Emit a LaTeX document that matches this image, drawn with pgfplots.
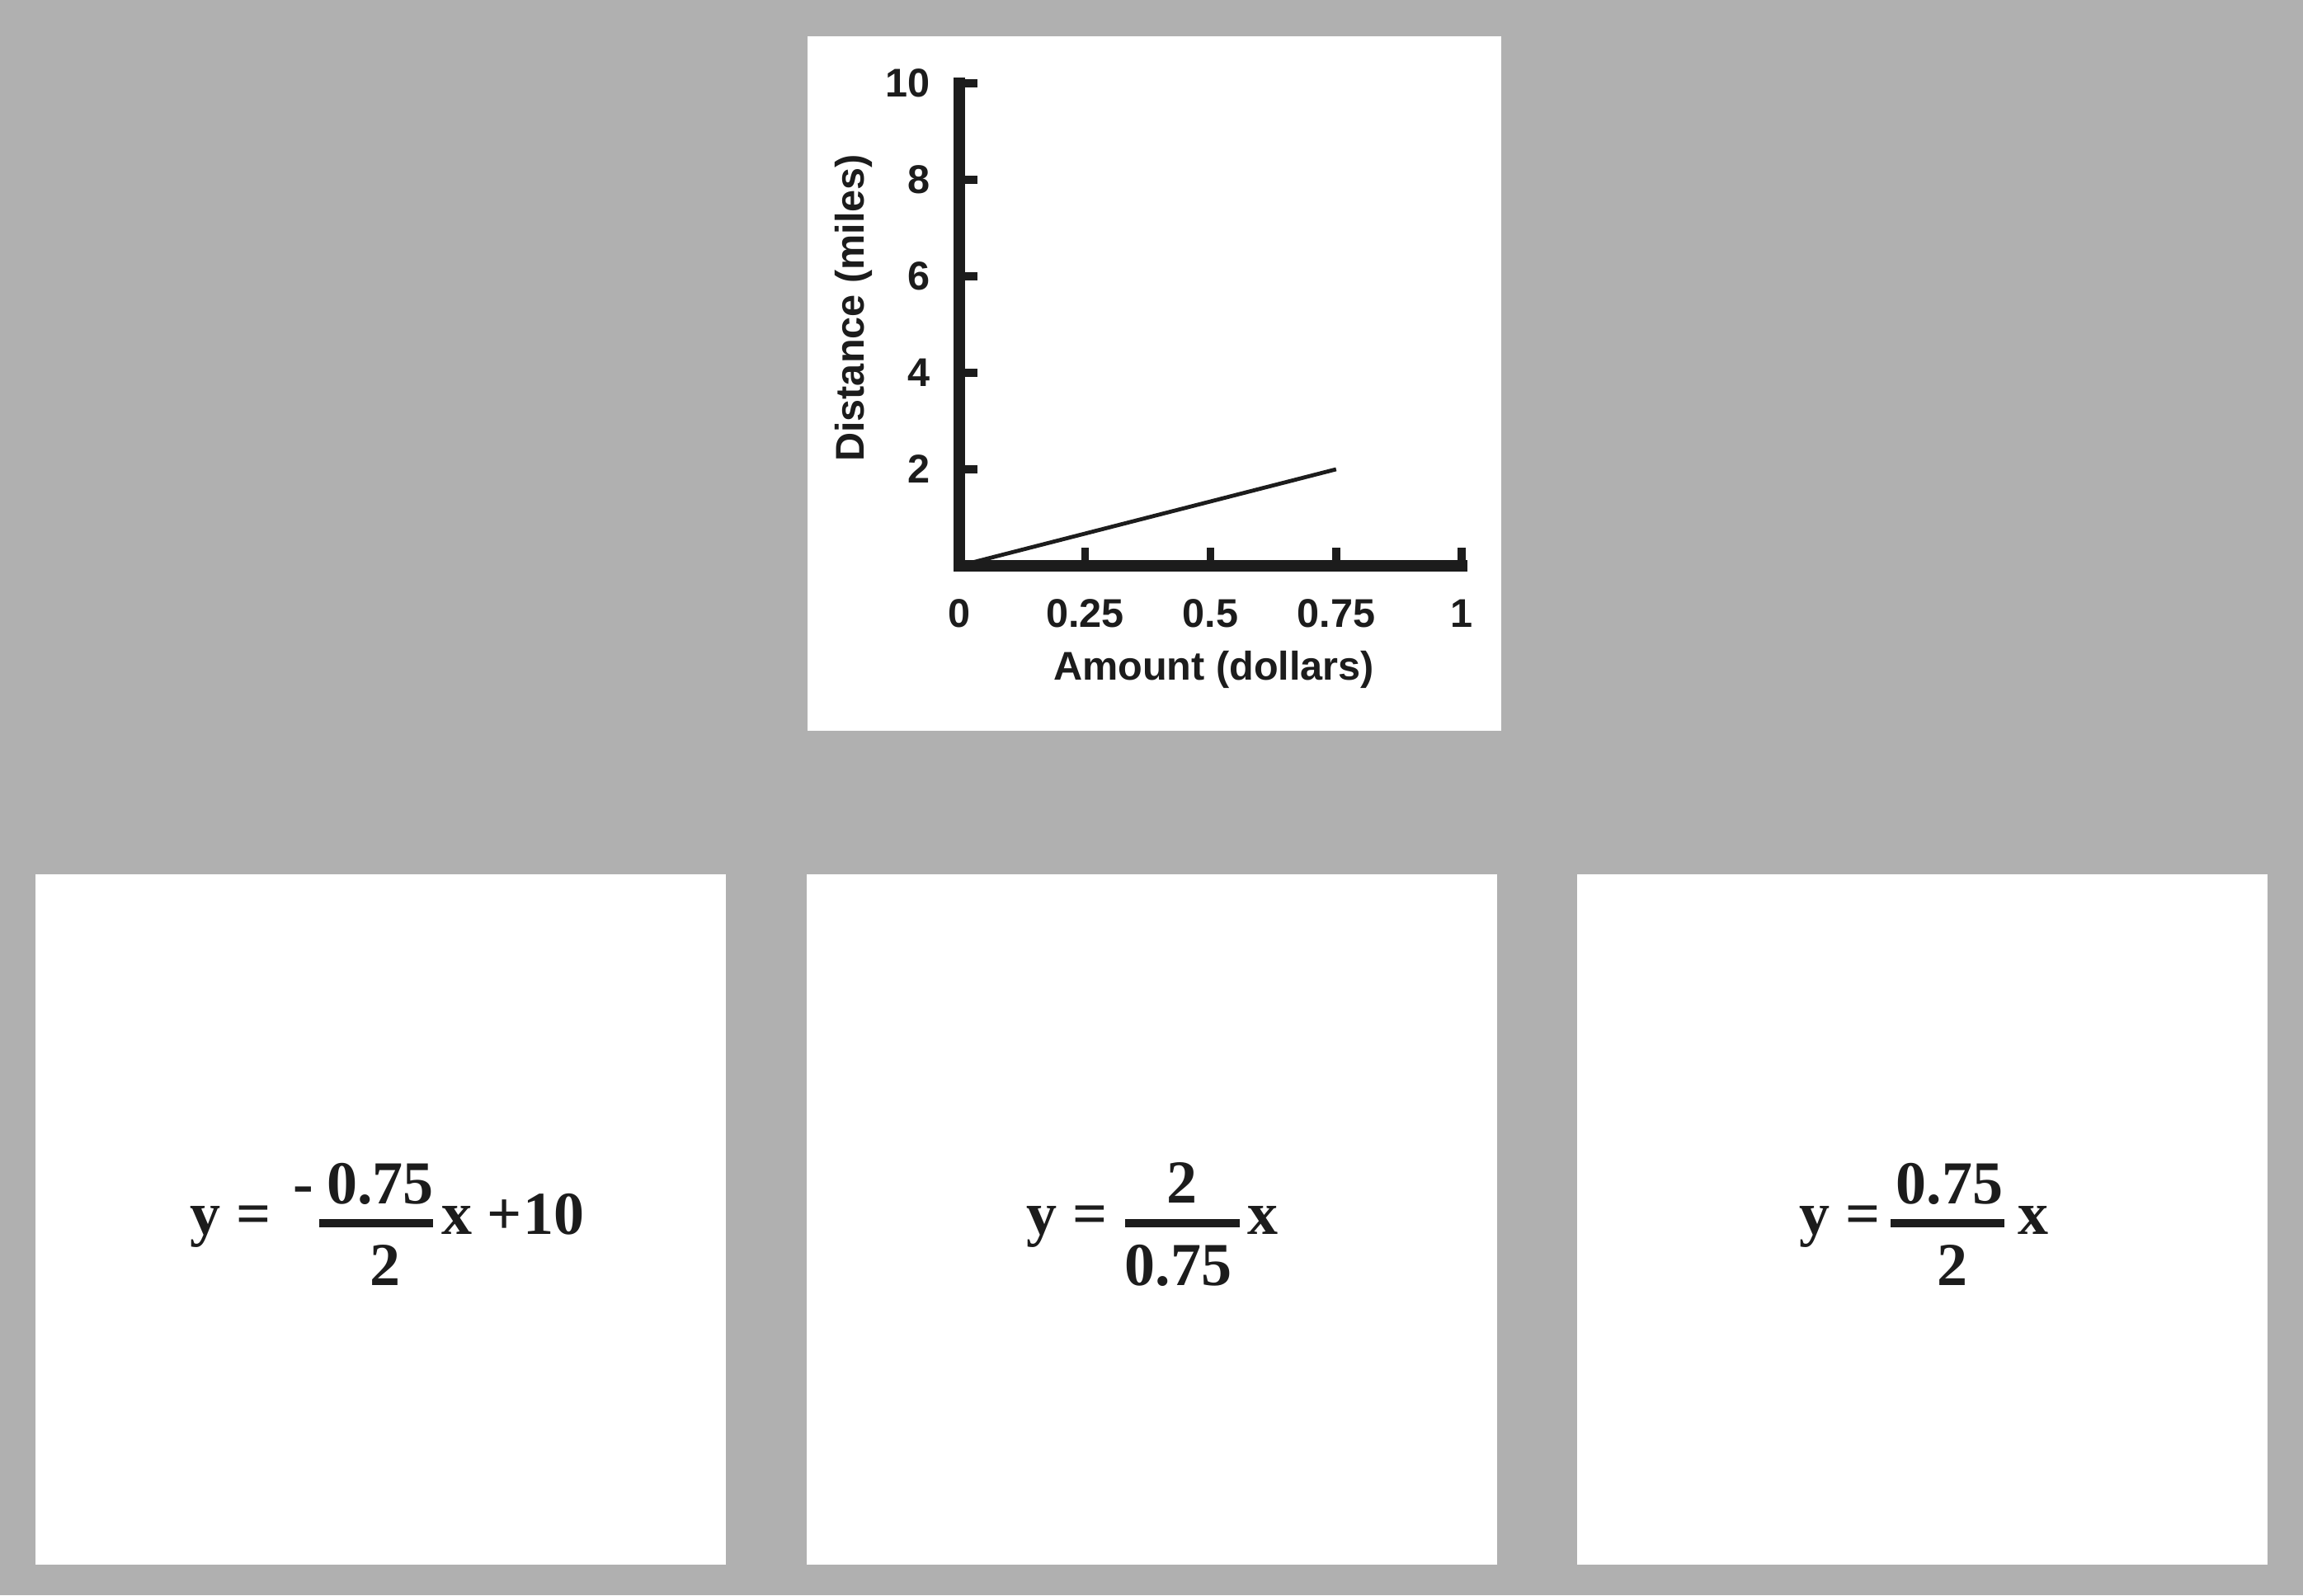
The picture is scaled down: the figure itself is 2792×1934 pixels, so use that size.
\documentclass[border=0pt]{standalone}
\usepackage{pgfplots}
\pgfplotsset{compat=1.18}
\usepackage{fontspec}
\newfontfamily\sansfam{Liberation Sans}
\newfontfamily\seriffam{Liberation Serif}
\definecolor{bggray}{RGB}{176,176,176}
\definecolor{ink}{RGB}{28,28,28}
\newcommand\chartfont{\sansfam\bfseries\fontsize{12.15bp}{14bp}\selectfont}
\newcommand\eqfont{\seriffam\bfseries\fontsize{18.5bp}{22bp}\selectfont}
\begin{document}
\begin{tikzpicture}
\begin{scope}[x=0.25bp,y=0.25bp]
\useasboundingbox (0,0) rectangle (2792,1934);
\fill[bggray] (0,0) rectangle (2792,1934);
% panels
\fill[white] (978.5,1890) rectangle (1820,1048);
\fill[white] (42.7,874) rectangle (879.6,37);
\fill[white] (977.6,874) rectangle (1814.5,37);
\fill[white] (1912.4,874) rectangle (2749.3,37);
\tikzset{eq/.style={anchor=base, inner sep=0pt, font=\eqfont, text=ink}}
% left equation
\node[eq] at (249,438) {y};
\node[eq] at (307.7,438) {=};
\node[eq] at (367.5,475) {-};
\node[eq] at (461,475) {0.75};
\fill[ink] (386.7,446) rectangle (525,456);
\node[eq] at (466.7,376) {2};
\node[eq] at (554,438) {x};
\node[eq] at (612,438) {+};
\node[eq] at (671.5,438) {10};
% middle equation
\node[eq] at (1262.5,438) {y};
\node[eq] at (1322,438) {=};
\node[eq] at (1433,476) {2};
\fill[ink] (1364,446) rectangle (1503,456);
\node[eq] at (1428.3,376) {0.75};
\node[eq] at (1530.5,438) {x};
% right equation
\node[eq] at (2200,438) {y};
\node[eq] at (2259,438) {=};
\node[eq] at (2363.5,475) {0.75};
\fill[ink] (2292,446) rectangle (2430,456);
\node[eq] at (2367,376) {2};
\node[eq] at (2465,438) {x};
\end{scope}
\begin{axis}[
  at={(290.75bp,312bp)}, anchor=south west,
  width=152.25bp, height=146.25bp, scale only axis,
  xmin=0, xmax=1, ymin=0, ymax=10,
  axis x line=bottom, axis y line=left,
  axis line style={-, line width=3.5bp, line cap=rect, draw=ink},
  xtick={0,0.25,0.5,0.75,1}, xticklabels={0,0.25,0.5,0.75,1},
  ytick={2,4,6,8,10}, yticklabels={2,4,6,8,10},
  tick align=inside, major tick length=5.5bp,
  every tick/.style={line width=2.4bp, draw=ink},
  ticklabel style={font=\chartfont, text=ink, inner sep=0pt},
  xticklabel style={anchor=north, yshift=-10bp},
  yticklabel style={anchor=east, xshift=-8.75bp},
  clip=false,
]
\addplot[draw=ink, line width=1.2bp] coordinates {(0,0) (0.75,2)};
\node[font=\chartfont, text=ink, anchor=base, inner sep=0pt] at (axis cs:0.5067,-2.376) {Amount (dollars)};
\node[font=\chartfont, text=ink, anchor=base, inner sep=0pt, rotate=90] at (axis cs:-0.1905,5.342) {Distance (miles)};
\end{axis}
\end{tikzpicture}
\end{document}
